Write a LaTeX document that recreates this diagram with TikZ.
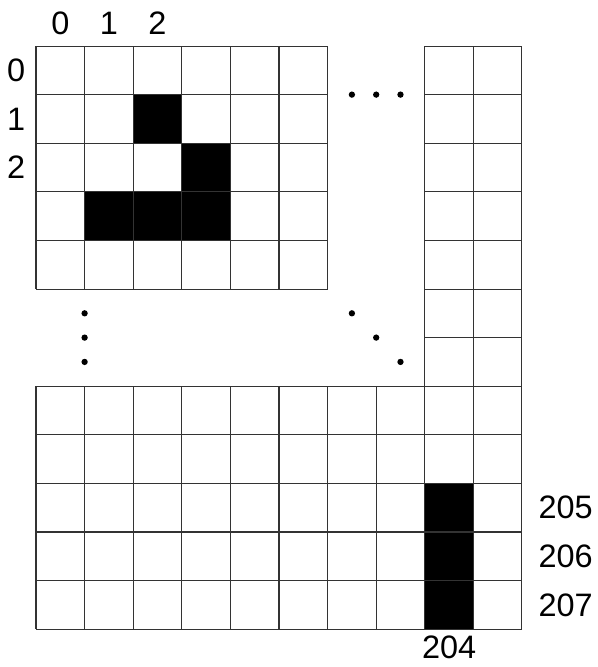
\documentclass[tikz,border=0pt]{standalone}
\usepackage{fontspec}
\setmainfont{Liberation Sans}

\begin{document}
\begin{tikzpicture}[x=1cm, y=-1cm,
    cellline/.style={draw=black!80, line width=0.6pt},
    filled/.style={fill=black},
    lbl/.style={font=\fontsize{19}{22}\selectfont, inner sep=0pt},
    dot/.style={circle, fill=black, inner sep=0pt, minimum size=0.13cm}]
    % Page frame
    \useasboundingbox (-0.741, -0.947) rectangle (11.564, 12.778);

    % Black cells of the top-left block
    \fill[filled] (2, 1) rectangle (3, 2);
    \fill[filled] (3, 2) rectangle (4, 4);
    \fill[filled] (1, 3) rectangle (3, 4);

    % Black column in the bottom block
    \fill[filled] (8, 9) rectangle (9, 12);

    % Top-left block (5 rows x 6 columns)
    \draw[cellline] (0, 0) grid (6, 5);

    % Right-hand block (12 rows x 2 columns)
    \draw[cellline] (8, 0) grid (10, 12);

    % Bottom block (5 rows x 10 columns)
    \draw[cellline] (0, 7) grid (10, 12);

    % Column and row indices
    \foreach \i in {0, 1, 2} {
        \node[lbl] (col\i) at (\i + 0.5, -0.47) {\i};
        \node[lbl] (row\i) at (-0.41, \i + 0.5) {\i};
    }
    \foreach \r/\t in {9/205, 10/206, 11/207}
        \node[lbl] (row\t) at (10.9, \r + 0.5) {\t};
    \node[lbl] (col204) at (8.5, 12.38) {204};

    % Ellipsis dots
    \foreach \k in {0, 1, 2} {
        \node[dot] (hdot\k) at (6.5 + 0.5*\k, 1) {};
        \node[dot] (vdot\k) at (1, 5.5 + 0.5*\k) {};
        \node[dot] (ddot\k) at (6.5 + 0.5*\k, 5.5 + 0.5*\k) {};
    }
\end{tikzpicture}
\end{document}
